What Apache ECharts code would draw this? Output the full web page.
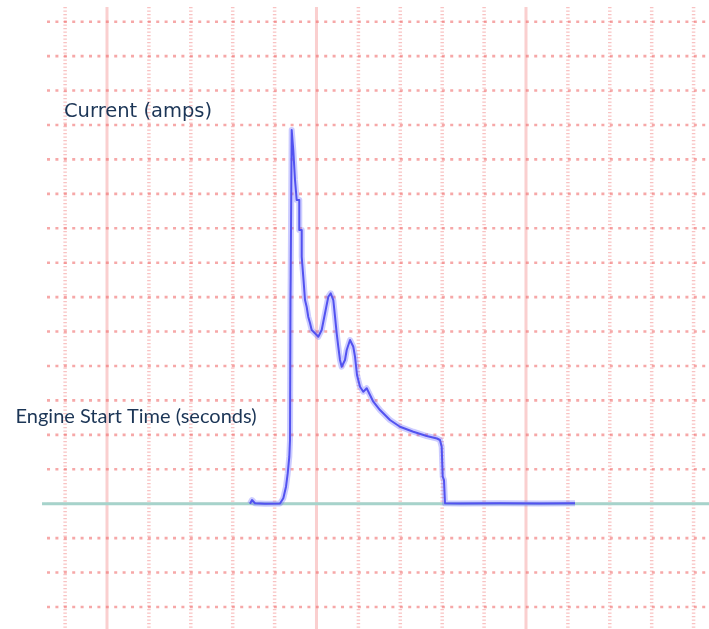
<!DOCTYPE html>
<html>
<head>
<meta charset="utf-8">
<script src="https://cdn.jsdelivr.net/npm/echarts@6/dist/echarts.min.js"></script>
<style>
  html, body { margin: 0; padding: 0; background: #ffffff; }
  #chart { width: 709px; height: 629px; }
</style>
</head>
<body>
<div id="chart"></div>
<script>
// ---- data (x in grid divisions, y in grid divisions, 0 = baseline) ----
var timeValues = [4.413, 4.461, 4.492, 4.532, 4.771, 5.129, 5.208, 5.272, 5.313, 5.351, 5.368, 5.379, 5.384, 5.408, 5.408, 5.439, 5.446, 5.487, 5.487, 5.527, 5.527, 5.589, 5.589, 5.647, 5.647, 5.685, 5.685, 5.726, 5.726, 5.766, 5.804, 5.845, 5.885, 5.964, 6.043, 6.124, 6.203, 6.282, 6.339, 6.401, 6.442, 6.482, 6.520, 6.561, 6.601, 6.680, 6.721, 6.800, 6.878, 6.919, 6.967, 7.038, 7.117, 7.198, 7.277, 7.356, 7.516, 7.754, 7.993, 8.310, 8.630, 8.876, 8.947, 8.988, 9.012, 9.043, 9.067, 9.425, 10.379, 11.334, 12.170];
var currentValues = [0, 0.107, 0.157, 0.012, 0, 0.006, 0.157, 0.494, 0.883, 1.365, 1.850, 5.916, 6.593, 6.593, 10.854, 10.825, 10.273, 10.273, 9.402, 9.402, 8.821, 8.821, 7.949, 7.949, 7.174, 7.165, 6.584, 6.584, 5.916, 5.713, 5.423, 5.248, 5.045, 4.949, 4.850, 5.045, 5.530, 6.012, 6.111, 5.916, 5.431, 4.949, 4.560, 4.174, 3.979, 4.174, 4.464, 4.755, 4.560, 4.270, 3.738, 3.398, 3.253, 3.352, 3.157, 2.963, 2.721, 2.431, 2.236, 2.091, 1.966, 1.894, 1.850, 1.656, 0.784, 0.688, 0.012, 0.006, 0.012, 0.006, 0.012];
var baselineX = [-0.551, 15.368];
var baselineY = [0, 0];
var verticalGrid = [0, 1, 2, 3, 4, 5, 6, 7, 8, 9, 10, 11, 12, 13, 14, 15];
var verticalSolid = [1, 6, 11];
var horizontalGrid = [14, 13, 12, 11, 10, 9, 8, 7, 6, 5, 4, 3, 2, 1, 0, -1, -2, -3];
var horizontalSolid = [0];
var yLabel = 'Current (amps)';
var xLabel = 'Engine Start Time (seconds)';

// ---- build ----
var X_MIN = -1.554, X_MAX = 15.368, Y_MIN = -3.639, Y_MAX = 14.630;
var V_TOP = 14.426, H_LEFT = -0.432;

function zip(a, b) { return a.map(function (v, i) { return [v, b[i]]; }); }

var series = [];
verticalGrid.forEach(function (k) {
  var solid = verticalSolid.indexOf(k) >= 0;
  series.push({
    type: 'line', silent: true, symbol: 'none', animation: false, z: 1,
    data: [[k, V_TOP], [k, Y_MIN]],
    lineStyle: solid ? { color: 'rgba(245,160,160,0.5)', width: 3, type: 'solid' }
                     : { color: 'rgba(240,120,120,0.45)', width: 3.5, type: [1.3, 2.2] }
  });
});
horizontalGrid.forEach(function (k) {
  var solid = horizontalSolid.indexOf(k) >= 0;
  series.push({
    type: 'line', silent: true, symbol: 'none', animation: false, z: 1,
    data: [[H_LEFT, k], [X_MAX, k]],
    lineStyle: solid ? { color: 'rgba(244,150,150,0.6)', width: 2, type: 'solid' }
                     : { color: 'rgba(240,110,110,0.6)', width: 2.6, type: [3, 5.4] }
  });
});
series.push({
  type: 'line', silent: true, symbol: 'none', animation: false, z: 3,
  data: zip(baselineX, baselineY),
  lineStyle: { color: '#a6d3cb', width: 3 }
});
series.push({
  type: 'line', silent: true, symbol: 'none', animation: false, z: 4,
  data: zip(timeValues, currentValues),
  lineStyle: { color: 'rgba(110,110,255,0.35)', width: 6, join: 'round' }
});
series.push({
  type: 'line', silent: true, symbol: 'none', animation: false, z: 5,
  data: zip(timeValues, currentValues),
  lineStyle: { color: '#5252f0', width: 2, join: 'round' }
});

var chart = echarts.init(document.getElementById('chart'), null, { renderer: 'canvas' });
chart.setOption({
  backgroundColor: '#ffffff',
  animation: false,
  grid: { left: 0, right: 0, top: 0, bottom: 0, containLabel: false },
  xAxis: { type: 'value', min: X_MIN, max: X_MAX, show: false, splitLine: { show: false } },
  yAxis: { type: 'value', min: Y_MIN, max: Y_MAX, show: false, splitLine: { show: false } },
  series: series,
  graphic: [
    { type: 'text', left: 64, top: 102, z: 10, silent: true,
      style: { text: yLabel, font: '19.5px "DejaVu Sans"', fill: '#1b3556' } },
    { type: 'text', left: 15.5, top: 407, z: 10, silent: true,
      style: { text: xLabel, font: '20px Lato', fill: '#1b3556' } }
  ]
});
</script>
</body>
</html>
